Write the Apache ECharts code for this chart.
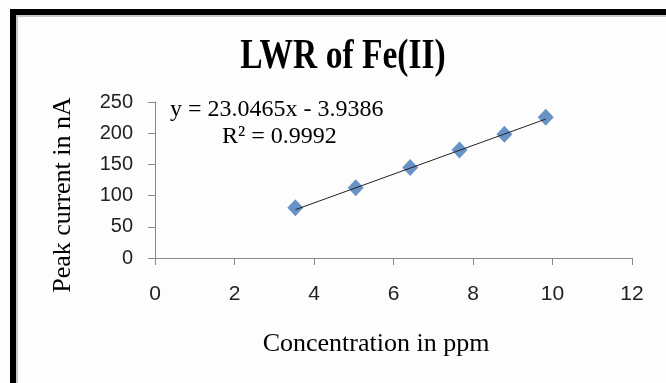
<!DOCTYPE html>
<html>
<head>
<meta charset="utf-8">
<script src="https://cdn.jsdelivr.net/npm/echarts@6/dist/echarts.min.js"></script>
<style>
html, body { margin: 0; padding: 0; background: #fff; }
#chart { width: 666px; height: 383px; }
</style>
</head>
<body>
<div id="chart"></div>
<script>
// concentration (ppm) vs peak current (nA)
var concentration = [3.53, 5.05, 6.42, 7.66, 8.79, 9.83];
var peakCurrent = [80.5, 112.5, 145, 173, 198.5, 225.5];
// linear trend shown on the chart
var slope = 23.0465;
var intercept = -3.9386;
var equationText = 'y = 23.0465x - 3.9386';
var r2Text = 'R\u00b2 = 0.9992';

var initChart = function () {
    var chart = echarts.init(document.getElementById('chart'));
    var points = concentration.map(function (x, i) { return [x, peakCurrent[i]]; });
    var xMin = concentration[0];
    var xMax = concentration[concentration.length - 1];
    var trend = [[xMin, slope * xMin + intercept], [xMax, slope * xMax + intercept]];

    var option = {
        backgroundColor: '#fdfdfd',
        animation: false,
        grid: {
            left: 155,
            right: 34,
            top: 102,
            bottom: 125
        },
        xAxis: {
            type: 'value',
            min: 0,
            max: 12,
            interval: 2,
            axisLine: { lineStyle: { color: '#888', width: 1 } },
            axisTick: { length: 7, lineStyle: { color: '#888' } },
            axisLabel: { fontFamily: 'Liberation Sans', fontSize: 21, color: '#222', margin: 26 },
            splitLine: { show: false }
        },
        yAxis: {
            type: 'value',
            min: 0,
            max: 250,
            interval: 50,
            axisLine: { show: true, lineStyle: { color: '#888', width: 1 } },
            axisTick: { show: true, length: 7, lineStyle: { color: '#888' } },
            axisLabel: { fontFamily: 'Liberation Sans', fontSize: 20, color: '#222', margin: 22 },
            splitLine: { show: false }
        },
        series: [
            {
                name: 'trend',
                type: 'line',
                data: trend,
                symbol: 'none',
                lineStyle: { color: '#222', width: 1 },
                z: 3
            },
            {
                name: 'Peak current',
                type: 'scatter',
                data: points,
                symbol: 'diamond',
                symbolSize: [16, 17],
                itemStyle: { color: '#4378b9' },
                z: 2
            }
        ],
        graphic: [
            { type: 'rect', shape: { x: 10, y: 9, width: 656, height: 6 }, style: { fill: '#000' } },
            { type: 'rect', shape: { x: 10, y: 9, width: 6, height: 374 }, style: { fill: '#000' } },
            { type: 'rect', shape: { x: 16, y: 15, width: 650, height: 2 }, style: { fill: '#c8c8c8' } },
            { type: 'rect', shape: { x: 16, y: 15, width: 2, height: 368 }, style: { fill: '#c8c8c8' } },
            {
                type: 'text', x: 343, y: 57, scaleY: 1.25,
                style: {
                    text: 'LWR of Fe(II)', x: 0, y: 0, align: 'center', verticalAlign: 'middle',
                    font: 'bold 33.5px "Liberation Serif"', fill: '#000'
                }
            },
            {
                type: 'text', x: 376, y: 344,
                style: {
                    text: 'Concentration in ppm', align: 'center', verticalAlign: 'middle',
                    font: '26px "Liberation Serif"', fill: '#000'
                }
            },
            {
                type: 'text', x: 63, y: 195, rotation: Math.PI / 2,
                style: {
                    text: 'Peak current in nA', align: 'center', verticalAlign: 'middle',
                    font: '26px "Liberation Serif"', fill: '#000'
                }
            },
            {
                type: 'text', x: 170, y: 110,
                style: { text: equationText, verticalAlign: 'middle', font: '24px "Liberation Serif"', fill: '#000' }
            },
            {
                type: 'text', x: 222, y: 137,
                style: { text: r2Text, verticalAlign: 'middle', font: '24px "Liberation Serif"', fill: '#000' }
            }
        ]
    };
    chart.setOption(option);
};

initChart();
</script>
</body>
</html>
